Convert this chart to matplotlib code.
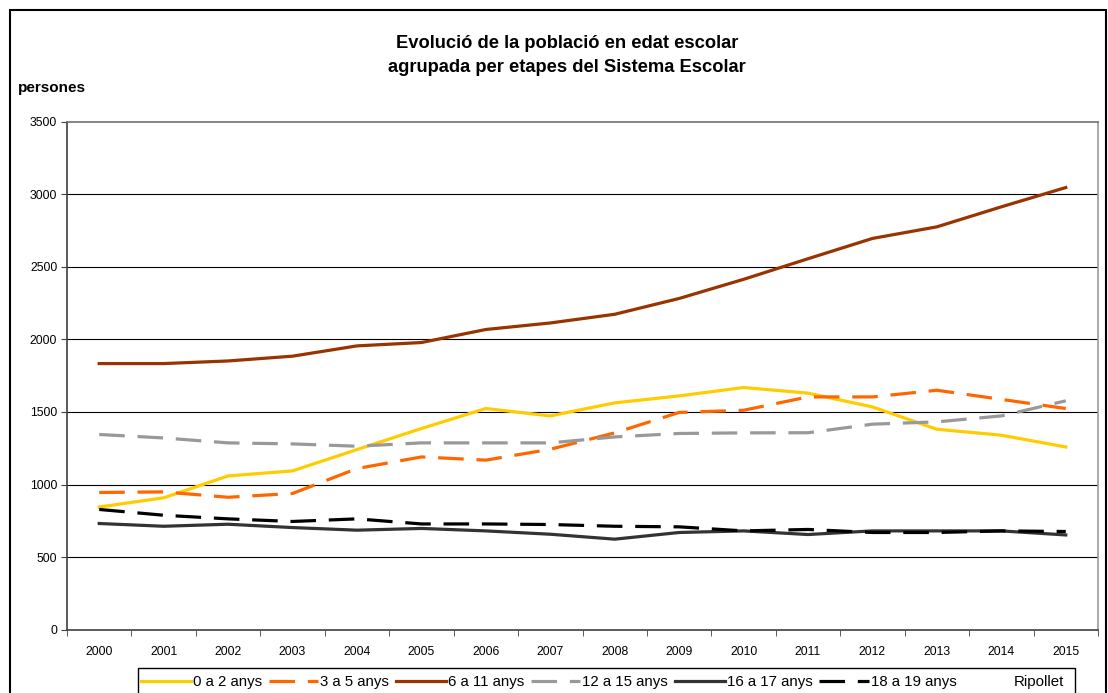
import matplotlib.pyplot as plt
import numpy as np
from matplotlib.patches import Rectangle

plt.rcParams['font.family'] = ['Liberation Sans', 'DejaVu Sans']

anys = ['2000', '2001', '2002', '2003', '2004', '2005', '2006', '2007',
        '2008', '2009', '2010', '2011', '2012', '2013', '2014', '2015']

# persones per franja d'edat
edat_0_2 = [845, 908, 1059, 1094, 1241, 1386, 1524, 1473, 1563, 1611, 1669, 1630, 1535, 1381, 1340, 1259]
edat_3_5 = [945, 949, 912, 938, 1110, 1190, 1168, 1243, 1356, 1497, 1512, 1604, 1604, 1650, 1587, 1524]
edat_6_11 = [1834, 1834, 1852, 1885, 1956, 1979, 2069, 2114, 2174, 2283, 2415, 2557, 2697, 2777, 2915, 3048]
edat_12_15 = [1345, 1321, 1287, 1280, 1264, 1287, 1287, 1287, 1328, 1352, 1356, 1357, 1416, 1432, 1473, 1577]
edat_16_17 = [731, 712, 726, 703, 685, 697, 680, 657, 623, 669, 680, 655, 680, 680, 680, 652]
edat_18_19 = [828, 788, 763, 745, 763, 728, 728, 724, 712, 708, 680, 690, 669, 669, 680, 676]

series = [
    ('0 a 2 anys', edat_0_2, '#FFCC00', '-'),
    ('3 a 5 anys', edat_3_5, '#FF6600', '--'),
    ('6 a 11 anys', edat_6_11, '#993300', '-'),
    ('12 a 15 anys', edat_12_15, '#999999', '--'),
    ('16 a 17 anys', edat_16_17, '#333333', '-'),
    ('18 a 19 anys', edat_18_19, '#000000', '--'),
]

fig = plt.figure(figsize=(11.08, 6.93), dpi=100)
ax = fig.add_axes([67/1108, 1-629.5/693, 1031/1108, 507.5/693])

x = np.arange(len(anys))
handles = []
for nom, vals, col, ls in series:
    if ls == '--':
        ln, = ax.plot(x, vals, color=col, lw=2.3, linestyle=(0, (8, 4)), label=nom)
    else:
        ln, = ax.plot(x, vals, color=col, lw=2.3, label=nom)
    handles.append(ln)

ax.set_xlim(-0.5, 15.5)
ax.set_ylim(0, 3500)
ax.set_yticks(range(0, 3501, 500))
ax.set_xticks(x)
ax.set_xticklabels(anys)
ax.set_xticks(np.arange(-0.5, 16, 1), minor=True)
ax.tick_params(axis='x', which='major', length=0, pad=12, labelsize=8.8)
ax.tick_params(axis='x', which='minor', length=4, direction='out', color='#404040')
ax.tick_params(axis='y', length=4, direction='out', color='#404040', labelsize=8.8, pad=3)
for v in range(500, 3001, 500):
    ax.axhline(v, color='#000000', lw=0.8, zorder=0)
ax.spines['left'].set_color('#404040')
ax.spines['bottom'].set_color('#404040')
ax.spines['right'].set_color('#9a9a9a')
ax.spines['top'].set_color('#707070')
for s in ax.spines.values():
    s.set_linewidth(1.2)

fig.text(567/1108, 1-43/693, 'Evolució de la població en edat escolar', ha='center', va='center',
         fontsize=13.2, fontweight='bold')
fig.text(567/1108, 1-67/693, 'agrupada per etapes del Sistema Escolar', ha='center', va='center',
         fontsize=13.2, fontweight='bold')
fig.text(18/1108, 1-88/693, 'persones', ha='left', va='center', fontsize=11, fontweight='bold')

# marc exterior
fig.patches.append(Rectangle((10/1108, -0.1), 1096/1108, 1.1 - 10/693, transform=fig.transFigure,
                             fill=False, edgecolor='black', lw=1.5))
# marc de la llegenda
fig.patches.append(Rectangle((138/1108, -0.1), 937/1108, 0.1 + 1 - 668/693, transform=fig.transFigure,
                             fill=False, edgecolor='black', lw=1.0))
fig.legend(handles=handles, loc='center left', bbox_to_anchor=(141/1108, 1-682/693), ncol=6,
           frameon=False, fontsize=10.8, handlelength=3.3, handletextpad=0.15, columnspacing=0.45,
           borderaxespad=0, borderpad=0)
fig.text(1064/1108, 1-682/693, 'Ripollet', ha='right', va='center', fontsize=10.8)

fig.savefig('out.png', dpi=100)
